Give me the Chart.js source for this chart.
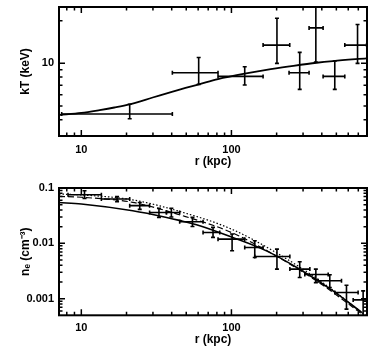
<!DOCTYPE html>
<html><head><meta charset="utf-8">
<script src="https://cdn.jsdelivr.net/npm/chart.js@4"></script>
<style>
html,body{margin:0;padding:0;background:#fff;}
#wrap{position:relative;width:376px;height:352px;}
canvas{position:absolute;left:0;}
#c1{top:0;} #c2{top:176px;}
</style></head><body>
<div id="wrap"><canvas id="c1" width="376" height="176"></canvas><canvas id="c2" width="376" height="176"></canvas></div>
<script>
// ---- Top panel: temperature profile ----
const kT_r    = [21, 60.5, 122.6, 201, 285, 365, 488, 692];
const kT_rLo  = [7.4, 40.4, 81.4, 162.5, 242, 329, 408, 569];
const kT_rHi  = [40.4, 81.4, 162.5, 244.6, 329, 408, 569, 795];
const kT_val  = [4.39, 8.58, 8.09, 13.46, 8.58, 17.8, 8.09, 13.46];
const kT_lo   = [4.06, 7.11, 7.03, 10.0, 6.55, 10.2, 6.55, 10.0];
const kT_hi   = [5.14, 11.0, 9.46, 20.8, 11.96, 27, 10.4, 18.8];
const kTmodel_r = [7.1, 10, 13.25, 16.6, 21, 29.9, 40.6, 61.5, 81.4, 122.6, 171, 245, 370, 475, 795];
const kTmodel   = [4.32, 4.47, 4.68, 4.88, 5.14, 5.74, 6.32, 7.14, 7.75, 8.47, 9.0, 9.52, 10.1, 10.38, 10.85];
const kT_ticks  = [10];
const r_ticks   = [10, 100];

// ---- Bottom panel: electron density profile ----
const ne_r   = [10.5, 17.3, 24.5, 32.9, 39.8, 55, 75.4, 101, 143, 201, 285, 365, 452, 584, 754];
const ne_rLo = [8.15, 13.6, 21.0, 28.5, 36.9, 45.2, 64.7, 81.4, 122.6, 143, 245, 308, 378, 488, 647];
const ne_rHi = [13.6, 21.0, 28.5, 36.9, 45.2, 64.7, 83.6, 122.6, 162.5, 245, 333, 441, 541, 698, 820];
const ne_val = [0.0756, 0.0633, 0.048, 0.0361, 0.036, 0.0245, 0.0157, 0.0119, 0.0084, 0.00578, 0.00342, 0.00273, 0.0021, 0.00129, 0.00095];
const ne_lo  = [0.0649, 0.0565, 0.041, 0.0294, 0.030, 0.0202, 0.0128, 0.00733, 0.00555, 0.00342, 0.00241, 0.00195, 0.00159, 0.000646, 0.0004];
const ne_hi  = [0.0894, 0.0697, 0.0548, 0.0428, 0.043, 0.0294, 0.0194, 0.0147, 0.0111, 0.00787, 0.00464, 0.00342, 0.0027, 0.00175, 0.00138];
const solid_r  = [7.1, 10, 22, 37, 45, 61.5, 100, 171, 285, 475, 740];
const solid_ne = [0.0548, 0.0513, 0.0388, 0.0294, 0.026, 0.0208, 0.0130, 0.0073, 0.0034, 0.00138, 0.00056];
const dash_r   = [7.1, 10, 22, 45, 100, 210, 400, 760];
const dash_ne  = [0.0705, 0.068, 0.055, 0.0329, 0.0157, 0.0054, 0.0018, 0.0005];
const dot_r    = [7.1, 10, 22, 45, 100, 210, 400, 780];
const dot_ne   = [0.0778, 0.075, 0.061, 0.0378, 0.0181, 0.0062, 0.002, 0.0005];
const ne_ticks = [0.1, 0.01, 0.001];
const ne_tickLabels = ['0.1', '0.01', '0.001'];

const FONT = 'Liberation Sans';
const pts = (xs, ys) => xs.map((x, i) => ({x, y: ys[i]}));
const errPts = (xs, xl, xh, ys, yl, yh) => xs.map((x, i) => ({x, y: ys[i], xMin: xl[i], xMax: xh[i], yMin: yl[i], yMax: yh[i]}));

const frameTicks = {
  id: 'frameTicks',
  afterDraw(chart) {
    const {ctx, chartArea: a, scales: {x, y}} = chart;
    ctx.save();
    ctx.strokeStyle = '#000';
    ctx.lineWidth = 1.5;
    const doTicks = (sc, horiz) => {
      const lo = Math.floor(Math.log10(sc.min)), hi = Math.ceil(Math.log10(sc.max));
      for (let d = lo; d <= hi; d++) for (let m = 1; m <= 9; m++) {
        const v = m * Math.pow(10, d);
        if (v < sc.min * 1.0001 || v > sc.max * 0.9999) continue;
        const p = sc.getPixelForValue(v), L = m === 1 ? 6 : 3.5;
        ctx.beginPath();
        if (horiz) { ctx.moveTo(p, a.bottom); ctx.lineTo(p, a.bottom - L); ctx.moveTo(p, a.top); ctx.lineTo(p, a.top + L); }
        else { ctx.moveTo(a.left, p); ctx.lineTo(a.left + L, p); ctx.moveTo(a.right, p); ctx.lineTo(a.right - L, p); }
        ctx.stroke();
      }
    };
    doTicks(x, true); doTicks(y, false);
    ctx.lineWidth = 2;
    ctx.strokeRect(a.left, a.top, a.right - a.left, a.bottom - a.top);
    ctx.restore();
  }
};

const errBars = {
  id: 'errBars',
  afterDatasetsDraw(chart) {
    const {ctx, chartArea: a, scales: {x, y}} = chart;
    ctx.save();
    ctx.beginPath(); ctx.rect(a.left, a.top, a.right - a.left, a.bottom - a.top); ctx.clip();
    ctx.strokeStyle = '#000'; ctx.lineWidth = 1.6;
    chart.data.datasets.forEach(ds => {
      if (!ds.errorBars) return;
      ds.data.forEach(d => {
        const px = x.getPixelForValue(d.x), py = y.getPixelForValue(d.y);
        const x0 = x.getPixelForValue(d.xMin), x1 = x.getPixelForValue(d.xMax);
        const y0 = y.getPixelForValue(d.yMin), y1 = y.getPixelForValue(d.yMax);
        const c = 2;
        ctx.beginPath();
        ctx.moveTo(x0, py); ctx.lineTo(x1, py);
        ctx.moveTo(x0, py - c); ctx.lineTo(x0, py + c);
        ctx.moveTo(x1, py - c); ctx.lineTo(x1, py + c);
        ctx.moveTo(px, y0); ctx.lineTo(px, y1);
        ctx.moveTo(px - c, y0); ctx.lineTo(px + c, y0);
        ctx.moveTo(px - c, y1); ctx.lineTo(px + c, y1);
        ctx.stroke();
      });
    });
    ctx.restore();
  }
};

function makeOpts(cfg) {
  return {
    responsive: false, animation: false, devicePixelRatio: 1,
    layout: {padding: {left: 0, right: 9, top: cfg.top, bottom: 0}},
    plugins: {legend: {display: false}, tooltip: {enabled: false}},
    scales: {
      x: {
        type: 'logarithmic', min: 7.1, max: 800,
        grid: {display: false, drawTicks: false}, border: {display: false},
        afterBuildTicks: s => { s.ticks = r_ticks.map(v => ({value: v})); },
        afterFit: s => { s.height = cfg.xh; s.paddingLeft = 0; s.paddingRight = 0; },
        ticks: {color: '#000', font: {family: FONT, size: 11, weight: 'bold'}, padding: cfg.xpad, maxRotation: 0,
                callback: v => String(v)},
        title: {display: true, text: 'r (kpc)', color: '#000', font: {family: FONT, size: 12, weight: 'bold'}, padding: {top: 0, bottom: cfg.tpad}}
      },
      y: {
        type: 'logarithmic', min: cfg.ymin, max: cfg.ymax,
        grid: {display: false, drawTicks: false}, border: {display: false},
        afterBuildTicks: s => { s.ticks = cfg.yticks.map(v => ({value: v})); },
        afterFit: s => { s.width = 59; s.paddingTop = 0; s.paddingBottom = 0; },
        ticks: {color: '#000', font: {family: FONT, size: 11, weight: 'bold'}, padding: 5,
                callback: (v, i) => cfg.ylabels[i]},
        title: {display: true, text: cfg.ytitle, color: '#000', font: {family: FONT, size: 12, weight: 'bold'}, padding: {top: 18, bottom: 0}}
      }
    }
  };
}

new Chart(document.getElementById('c1'), {
  type: 'scatter',
  data: {datasets: [
    {data: pts(kTmodel_r, kTmodel), showLine: true, borderColor: '#000', borderWidth: 1.8, pointRadius: 0, cubicInterpolationMode: 'monotone', fill: false},
    {data: errPts(kT_r, kT_rLo, kT_rHi, kT_val, kT_lo, kT_hi), errorBars: true, pointRadius: 0, showLine: false}
  ]},
  options: makeOpts({top: 7, xh: 40, xpad: 7, tpad: 7, ymin: 3.07, ymax: 25, yticks: kT_ticks, ylabels: kT_ticks.map(String), ytitle: 'kT (keV)'}),
  plugins: [errBars, frameTicks]
});

new Chart(document.getElementById('c2'), {
  type: 'scatter',
  data: {datasets: [
    {data: pts(solid_r, solid_ne), showLine: true, borderColor: '#000', borderWidth: 1.6, pointRadius: 0, cubicInterpolationMode: 'monotone', fill: false},
    {data: pts(dash_r, dash_ne), showLine: true, borderColor: '#000', borderWidth: 1.2, borderDash: [6, 3], pointRadius: 0, cubicInterpolationMode: 'monotone', fill: false},
    {data: pts(dot_r, dot_ne), showLine: true, borderColor: '#000', borderWidth: 1.2, borderDash: [1.5, 2], pointRadius: 0, cubicInterpolationMode: 'monotone', fill: false},
    {data: errPts(ne_r, ne_rLo, ne_rHi, ne_val, ne_lo, ne_hi), errorBars: true, pointRadius: 0, showLine: false}
  ]},
  options: makeOpts({top: 12, xh: 36.7, xpad: 6, tpad: 5, ymin: 0.0005, ymax: 0.1, yticks: ne_ticks, ylabels: ne_tickLabels, ytitle: 'nₑ (cm⁻³)'}),
  plugins: [errBars, frameTicks]
});
</script></body></html>
